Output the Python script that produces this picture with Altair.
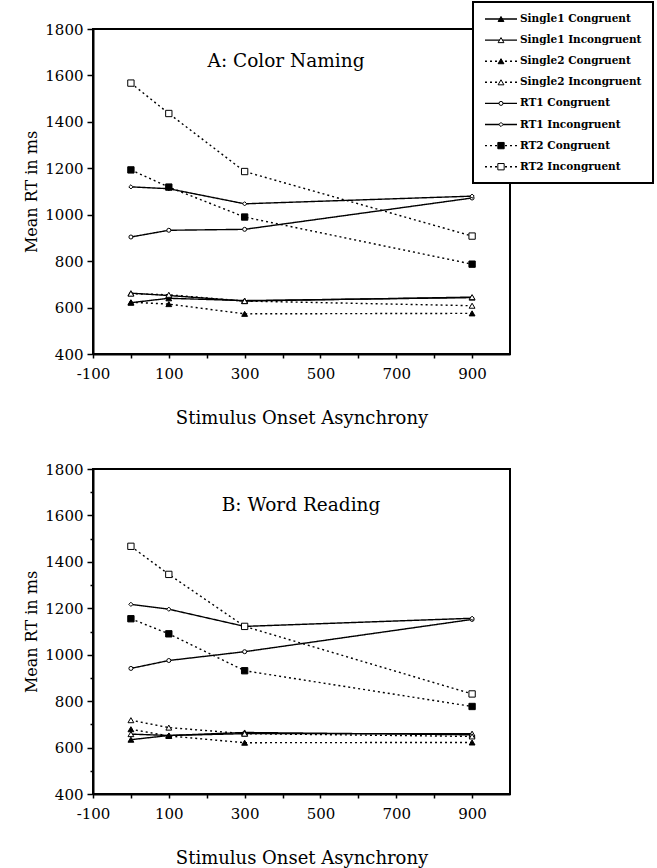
import altair as alt
import pandas as pd

# Stimulus onset asynchrony levels (ms)
soa = [0, 100, 300, 900]

series = [
    "Single1 Congruent", "Single1 Incongruent",
    "Single2 Congruent", "Single2 Incongruent",
    "RT1 Congruent", "RT1 Incongruent",
    "RT2 Congruent", "RT2 Incongruent",
]

# Panel A: colour naming, mean RT (ms) at each SOA
a_single1_con = [621, 640, 630, 643]
a_single1_inc = [662, 652, 628, 645]
a_single2_con = [623, 615, 573, 575]
a_single2_inc = [660, 655, 628, 608]
a_rt1_con = [904, 933, 937, 1072]
a_rt1_inc = [1120, 1112, 1047, 1080]
a_rt2_con = [1193, 1119, 990, 787]
a_rt2_inc = [1567, 1436, 1186, 908]

# Panel B: word reading, mean RT (ms) at each SOA
b_single1_con = [634, 652, 665, 655]
b_single1_inc = [658, 652, 660, 660]
b_single2_con = [679, 650, 621, 622]
b_single2_inc = [718, 686, 660, 648]
b_rt1_con = [941, 975, 1013, 1152]
b_rt1_inc = [1217, 1196, 1122, 1157]
b_rt2_con = [1155, 1090, 931, 777]
b_rt2_inc = [1467, 1346, 1122, 831]

panel_titles = ["A: Color Naming", "B: Word Reading"]
x_ticks = list(range(-100, 901, 100))
y_ticks = list(range(400, 1801, 100))

# Line and marker style for each series
SOLID, DOTTED = [1, 0], [2, 3]
dashes = [SOLID, SOLID, DOTTED, DOTTED, SOLID, SOLID, DOTTED, DOTTED]
shapes = ["triangle-up", "triangle-up", "triangle-up", "triangle-up",
          "circle", "diamond", "square", "square"]
fills = ["black", "white", "black", "white", "white", "white", "black", "white"]
sizes = [34, 34, 34, 34, 16, 18, 40, 40]

FONT = "DejaVu Serif"
W, H = 417, 325
X_DOM = [-100, 1000]
Y_DOM = [400, 1800]


def px_to_x(px):
    return X_DOM[0] + px / W * (X_DOM[1] - X_DOM[0])


def px_to_y(py):
    return Y_DOM[1] - py / H * (Y_DOM[1] - Y_DOM[0])


def long_table(values):
    rows = []
    for name, vals in zip(series, values):
        for s, v in zip(soa, vals):
            rows.append({"series": name, "soa": s, "rt": v})
    return pd.DataFrame(rows)


x_scale = alt.Scale(domain=X_DOM, nice=False, zero=False)
y_scale = alt.Scale(domain=Y_DOM, nice=False, zero=False)

x_axis = alt.Axis(
    values=x_ticks,
    labelExpr="(datum.value + 100) % 200 == 0 ? toString(datum.value) : ''",
    title="Stimulus Onset Asynchrony",
    tickSize=4, labelPadding=8, titlePadding=28,
    titleFontSize=18, labelOverlap=False, labelFlush=False,
)
y_axis = alt.Axis(
    values=y_ticks,
    labelExpr="datum.value % 200 == 0 ? toString(datum.value) : ''",
    title="Mean RT in ms",
    tickSize={"condition": {"test": "datum.value % 200 == 0", "value": 6}, "value": 3},
    labelPadding=4, titlePadding=5, titleFontSize=16,
    labelOverlap=False, labelFlush=False,
)


def panel(values, title, title_px, with_legend):
    df = long_table(values)
    base = alt.Chart(df).encode(
        x=alt.X("soa:Q", scale=x_scale, axis=x_axis),
        y=alt.Y("rt:Q", scale=y_scale, axis=y_axis),
    )
    layers = []
    for i, name in enumerate(series):
        layers.append(
            base.transform_filter(alt.datum.series == name).mark_line(
                color="black", strokeWidth=1.4, strokeDash=dashes[i]
            )
        )
    for i, name in enumerate(series):
        layers.append(
            base.transform_filter(alt.datum.series == name).mark_point(
                shape=shapes[i], filled=True, fill=fills[i], stroke="black",
                strokeWidth=1, size=sizes[i], opacity=1,
            )
        )
    layers.append(
        alt.Chart(pd.DataFrame({"label": [title]})).mark_text(
            font=FONT, fontSize=18.5, color="black", align="center", baseline="middle"
        ).encode(x=alt.value(title_px[0]), y=alt.value(title_px[1]), text="label:N")
    )

    if with_legend:
        # Boxed key in the upper right corner, placed on the panel's own scales
        box = pd.DataFrame({
            "x": [px_to_x(380)], "x2": [px_to_x(560)],
            "y": [px_to_y(-27)], "y2": [px_to_y(154)],
        })
        layers.append(
            alt.Chart(box).mark_rect(fill="white", stroke="black", strokeWidth=2).encode(
                x=alt.X("x:Q", scale=x_scale), x2="x2:Q",
                y=alt.Y("y:Q", scale=y_scale), y2="y2:Q",
            )
        )
        key = pd.DataFrame({
            "series": series,
            "x": [px_to_x(392)] * len(series),
            "x2": [px_to_x(424)] * len(series),
            "xm": [px_to_x(408)] * len(series),
            "xt": [px_to_x(427)] * len(series),
            "y": [px_to_y(-10 + 21.1 * i) for i in range(len(series))],
        })
        kbase = alt.Chart(key)
        for i, name in enumerate(series):
            layers.append(
                kbase.transform_filter(alt.datum.series == name).mark_rule(
                    color="black", strokeWidth=1.4, strokeDash=dashes[i]
                ).encode(
                    x=alt.X("x:Q", scale=x_scale), x2="x2:Q",
                    y=alt.Y("y:Q", scale=y_scale),
                )
            )
        for i, name in enumerate(series):
            layers.append(
                kbase.transform_filter(alt.datum.series == name).mark_point(
                    shape=shapes[i], filled=True, fill=fills[i], stroke="black",
                    strokeWidth=1, size=sizes[i], opacity=1,
                ).encode(
                    x=alt.X("xm:Q", scale=x_scale),
                    y=alt.Y("y:Q", scale=y_scale),
                )
            )
        layers.append(
            kbase.mark_text(
                font=FONT, fontSize=10.5, fontWeight="bold", color="black",
                align="left", baseline="middle",
            ).encode(
                x=alt.X("xt:Q", scale=x_scale),
                y=alt.Y("y:Q", scale=y_scale),
                text="series:N",
            )
        )

    return alt.layer(*layers).properties(width=W, height=H)


panel_a = panel(
    [a_single1_con, a_single1_inc, a_single2_con, a_single2_inc,
     a_rt1_con, a_rt1_inc, a_rt2_con, a_rt2_inc],
    panel_titles[0], (193, 32), True,
)
panel_b = panel(
    [b_single1_con, b_single1_inc, b_single2_con, b_single2_inc,
     b_rt1_con, b_rt1_inc, b_rt2_con, b_rt2_inc],
    panel_titles[1], (208, 36), False,
)

chart = (
    alt.vconcat(panel_a, panel_b, spacing=33)
    .properties(padding={"left": 22, "top": 0, "right": 0, "bottom": 0}, background="white")
    .configure_view(stroke="black", strokeWidth=2)
    .configure_axis(
        labelFont=FONT, titleFont=FONT, labelFontSize=15, labelColor="black",
        titleColor="black", titleFontWeight="normal", domainColor="black",
        domainWidth=2, tickColor="black", tickWidth=1.5, grid=False,
    )
)

chart.save("out.html", embed_options={"renderer": "svg", "actions": False})
